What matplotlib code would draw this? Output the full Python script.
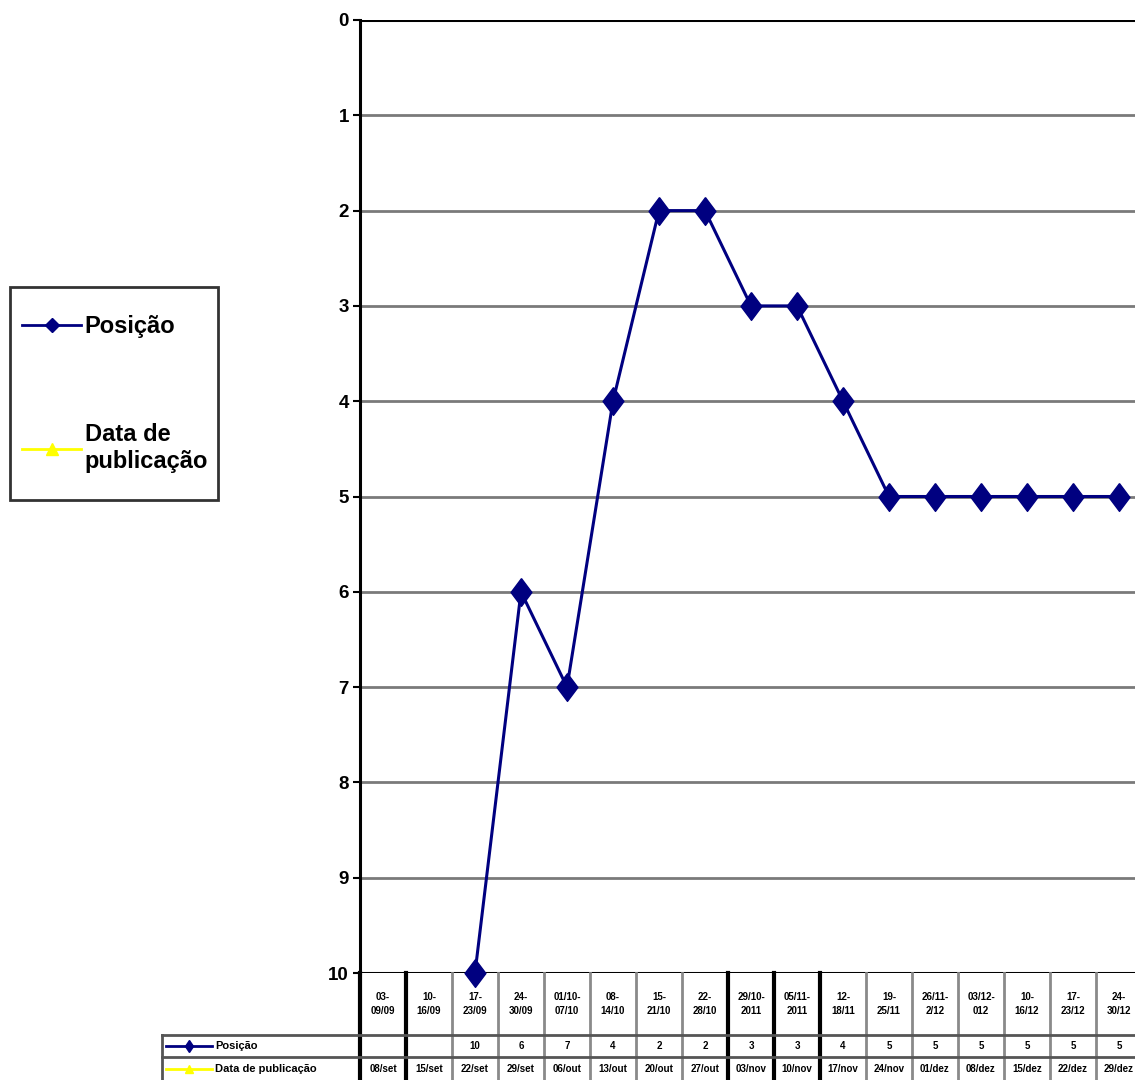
import matplotlib
matplotlib.use("Agg")
import matplotlib.pyplot as plt
from matplotlib.lines import Line2D
from matplotlib.patches import Rectangle
import numpy as np

plt.rcParams["font.family"] = ["Liberation Sans", "DejaVu Sans"]

# Weekly periods (category axis) and chart data
periods = ["03-\n09/09", "10-\n16/09", "17-\n23/09", "24-\n30/09", "01/10-\n07/10",
           "08-\n14/10", "15-\n21/10", "22-\n28/10", "29/10-\n2011", "05/11-\n2011",
           "12-\n18/11", "19-\n25/11", "26/11-\n2/12", "03/12-\n012", "10-\n16/12",
           "17-\n23/12", "24-\n30/12"]
posicao = [None, None, 10, 6, 7, 4, 2, 2, 3, 3, 4, 5, 5, 5, 5, 5, 5]
data_publicacao = ["08/set", "15/set", "22/set", "29/set", "06/out", "13/out", "20/out",
                   "27/out", "03/nov", "10/nov", "17/nov", "24/nov", "01/dez", "08/dez",
                   "15/dez", "22/dez", "29/dez"]
y_ticks = list(range(0, 11))

W, H = 1135, 1080
fig = plt.figure(figsize=(W / 100, H / 100), dpi=100)

n = len(periods)
col_px = 46
ax_left, ax_top, ax_bottom = 360, 20, 973
ax = fig.add_axes([ax_left / W, 1 - ax_bottom / H, n * col_px / W, (ax_bottom - ax_top) / H])

navy = "#000080"
diamond = [(0, 1), (0.75, 0), (0, -1), (-0.75, 0), (0, 1)]

x = np.arange(n) + 0.5
yv = np.array([np.nan if v is None else v for v in posicao], dtype=float)
ax.plot(x, yv, color=navy, lw=2.2, marker=diamond, markersize=20,
        markerfacecolor=navy, markeredgecolor=navy, zorder=5, clip_on=False)

ax.set_xlim(0, n)
ax.set_ylim(10, 0)
ax.set_yticks(y_ticks)
ax.set_yticklabels([str(t) for t in y_ticks], fontsize=13.5, fontweight="bold")
ax.tick_params(axis="y", length=5, width=1.5, pad=3)
ax.set_xticks([])
for t in y_ticks[1:-1]:
    ax.axhline(t, color="#7a7a7a", lw=2, zorder=1)
ax.axhline(0, color="black", lw=2.2, zorder=2)
ax.axhline(10, color="black", lw=2.2, zorder=2)
for s in ["top", "right", "bottom"]:
    ax.spines[s].set_visible(False)
ax.spines["left"].set_linewidth(2.2)

# Data table below the plot (x in data units, y in axes fraction)
trans = ax.get_xaxis_transform()
ph = ax_bottom - ax_top
def yf(py):
    return (ax_bottom - py) / ph

y_hdr_bot = yf(1035)
y_row1_bot = yf(1057)
y_row2_bot = yf(1085)
label_left = (162 - ax_left) / col_px

black_edges = {0, 1, 8, 9, 10}
for k in range(n + 1):
    c = "black" if k in black_edges else "#8a8a8a"
    lw = 3 if k in black_edges else 2
    ax.add_line(Line2D([k, k], [0, y_row2_bot], transform=trans, color=c, lw=lw, clip_on=False))
for yy in [y_hdr_bot, y_row1_bot]:
    ax.add_line(Line2D([label_left, n], [yy, yy], transform=trans, color="#555555", lw=2, clip_on=False))
ax.add_line(Line2D([label_left, label_left], [y_hdr_bot, y_row2_bot], transform=trans,
                   color="#555555", lw=2, clip_on=False))

for i in range(n):
    ax.text(i + 0.5, (0 + y_hdr_bot) / 2, periods[i], transform=trans, ha="center", va="center",
            fontsize=7, fontweight="bold", linespacing=1.5)
    if posicao[i] is not None:
        ax.text(i + 0.5, (y_hdr_bot + y_row1_bot) / 2, str(posicao[i]), transform=trans,
                ha="center", va="center", fontsize=7, fontweight="bold")
    ax.text(i + 0.5, (y_row1_bot + yf(1080)) / 2, data_publicacao[i], transform=trans,
            ha="center", va="center", fontsize=7, fontweight="bold")

# Row labels with legend keys
key_x0 = (166 - ax_left) / col_px
key_x1 = (212 - ax_left) / col_px
txt_x = (215 - ax_left) / col_px
for (yy0, yy1), col, mk, lab in [((y_hdr_bot, y_row1_bot), navy, "d", "Posição"),
                                   ((y_row1_bot, yf(1080)), "#ffff00", "^", "Data de publicação")]:
    ym = (yy0 + yy1) / 2
    ax.add_line(Line2D([key_x0, key_x1], [ym, ym], transform=trans, color=col, lw=2, clip_on=False))
    ax.add_line(Line2D([(key_x0 + key_x1) / 2], [ym], transform=trans, color=col, marker=mk,
                       markersize=6, linestyle="none", clip_on=False))
    ax.text(txt_x, ym, lab, transform=trans, ha="left", va="center", fontsize=8, fontweight="bold")

# Legend: frame drawn separately so its size can be set independently of the entries
fig.add_artist(Rectangle((10 / W, 1 - 500 / H), 208 / W, 213 / H, transform=fig.transFigure,
                         facecolor="white", edgecolor="#333333", lw=2, zorder=0))
handles = [Line2D([], [], color=navy, lw=2, marker="D", markersize=7,
                  markerfacecolor=navy, markeredgecolor=navy),
           Line2D([], [], color="#ffff00", lw=2, marker="^", markersize=8,
                  markerfacecolor="#ffff00", markeredgecolor="#ffff00")]
leg = fig.legend(handles, ["Posição", "Data de\npublicação"], loc="upper left",
                 bbox_to_anchor=(22 / W, 1 - 315 / H), frameon=False,
                 prop={"size": 17, "weight": "bold"}, labelspacing=3.6,
                 handlelength=2.5, handletextpad=0.15, borderpad=0, borderaxespad=0)

fig.savefig("out.png", dpi=100)
